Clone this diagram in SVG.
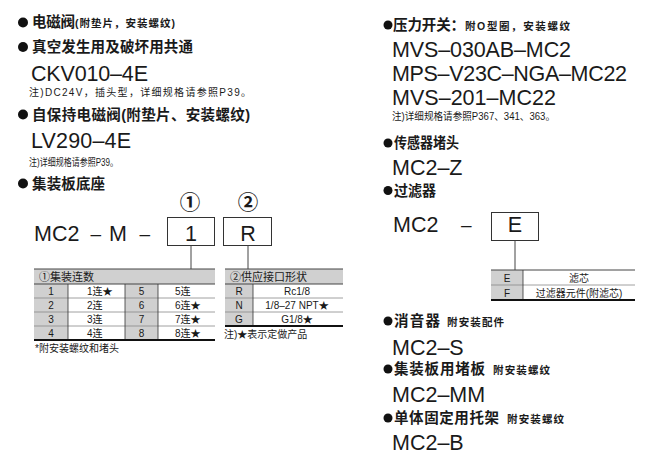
<svg xmlns="http://www.w3.org/2000/svg" width="649" height="459" viewBox="0 0 649 459">
<style>
text{font-family:"Liberation Sans","Noto Sans CJK SC",sans-serif;fill:#1a1a1a}
.h{font-size:14.5px;font-weight:700}
.s{font-size:10.5px;font-weight:700}
.big{font-size:21.5px}
.dash{font-size:19px}
.note{font-size:10px}
.t{font-size:10px}
.th{font-size:11px}
.c{text-anchor:middle}
.cj{font-family:"Noto Sans CJK SC",sans-serif}
.g{fill:#d0d0d0}
.w{fill:#fff}
.box{fill:#fff;stroke:#333;stroke-width:1}
.ln{stroke:#444;stroke-width:1;fill:none}
.rl{stroke:#888;stroke-width:0.8}
.vl{stroke:#333;stroke-width:0.8}
.bl{stroke:#111;stroke-width:2}
.dot{fill:#111}
</style>
<rect width="649" height="459" fill="#fff"/>

<g id="sec-solenoid">
<circle class="dot" cx="23" cy="22.5" r="5"/>
<text class="h" x="32" y="27" textLength="43">电磁阀</text>
<text class="s" x="75" y="27" textLength="100">(附垫片，安装螺纹)</text>
<circle class="dot" cx="23" cy="47" r="5"/>
<text class="h" x="32" y="52" textLength="161">真空发生用及破坏用共通</text>
<text class="big" x="31" y="81" textLength="117">CKV010–4E</text>
<text class="note" x="29" y="96" textLength="222">注)DC24V，插头型，详细规格请参照P39。</text>
</g>

<g id="sec-latching">
<circle class="dot" cx="23" cy="114.5" r="5"/>
<text class="h" x="32" y="120" textLength="218">自保持电磁阀(附垫片、安装螺纹)</text>
<text class="big" x="31" y="148" textLength="100">LV290–4E</text>
<text class="note" x="29" y="166" textLength="89" lengthAdjust="spacingAndGlyphs">注)详细规格请参照P39。</text>
</g>

<g id="sec-manifold">
<circle class="dot" cx="23" cy="183.5" r="5"/>
<text class="h" x="32" y="189" textLength="73">集装板底座</text>
<text class="big" x="34" y="241">MC2</text>
<text class="dash" x="90.5" y="240">–</text>
<text class="big" x="109" y="241">M</text>
<text class="dash" x="139.5" y="240">–</text>
</g>

<g id="code-1">
<text class="cj c" x="190" y="209.5" font-size="20.5" font-weight="700">①</text>
<rect class="box" x="167.5" y="217.5" width="47" height="28"/>
<text class="big c" x="191" y="241">1</text>
</g>

<g id="code-2">
<text class="cj c" x="248" y="209.5" font-size="20.5" font-weight="700">②</text>
<rect class="box" x="223.5" y="217.5" width="48" height="28"/>
<text class="big c" x="248" y="241">R</text>
</g>

<g id="table-stations">
<rect class="g" x="34" y="269" width="181" height="15"/>
<rect class="g" x="34" y="284" width="34" height="56"/>
<rect class="w" x="68" y="284" width="57" height="56"/>
<rect class="g" x="125" y="284" width="33" height="56"/>
<rect class="w" x="158" y="284" width="57" height="56"/>
<line class="ln" x1="34" y1="269" x2="215" y2="269"/>
<line class="ln" x1="34" y1="284" x2="215" y2="284"/>
<line class="rl" x1="34" y1="298" x2="215" y2="298"/>
<line class="rl" x1="34" y1="312" x2="215" y2="312"/>
<line class="rl" x1="34" y1="326" x2="215" y2="326"/>
<line class="vl" x1="68" y1="284" x2="68" y2="340"/>
<line class="vl" x1="125" y1="284" x2="125" y2="340"/>
<line class="vl" x1="158" y1="284" x2="158" y2="340"/>
<line class="bl" x1="34" y1="340" x2="215" y2="340"/>
<text class="th" x="39" y="280.5">①集装连数</text>
<text class="t c" x="51" y="294.5">1</text>
<text class="t c" x="51" y="308.5">2</text>
<text class="t c" x="51" y="322.5">3</text>
<text class="t c" x="51" y="336.5">4</text>
<text class="t" x="87" y="294.5">1连★</text>
<text class="t" x="87" y="308.5">2连</text>
<text class="t" x="87" y="322.5">3连</text>
<text class="t" x="87" y="336.5">4连</text>
<text class="t c" x="141.5" y="294.5">5</text>
<text class="t c" x="141.5" y="308.5">6</text>
<text class="t c" x="141.5" y="322.5">7</text>
<text class="t c" x="141.5" y="336.5">8</text>
<text class="t" x="175" y="294.5">5连</text>
<text class="t" x="175" y="308.5">6连★</text>
<text class="t" x="175" y="322.5">7连★</text>
<text class="t" x="175" y="336.5">8连★</text>
<text class="t" x="35" y="352">*附安装螺纹和堵头</text>
</g>

<g id="table-port">
<rect class="g" x="225" y="269" width="118" height="15"/>
<rect class="g" x="225" y="284" width="28" height="42"/>
<rect class="w" x="253" y="284" width="90" height="42"/>
<line class="ln" x1="225" y1="269" x2="343" y2="269"/>
<line class="ln" x1="225" y1="284" x2="343" y2="284"/>
<line class="rl" x1="225" y1="298" x2="343" y2="298"/>
<line class="rl" x1="225" y1="312" x2="343" y2="312"/>
<line class="vl" x1="253" y1="284" x2="253" y2="326"/>
<line class="bl" x1="225" y1="326" x2="343" y2="326"/>
<text class="th" x="230" y="280.5">②供应接口形状</text>
<text class="t c" x="239" y="294.5">R</text>
<text class="t c" x="239" y="308.5">N</text>
<text class="t c" x="239" y="322.5">G</text>
<text class="t c" x="297" y="294.5">Rc1/8</text>
<text class="t c" x="297" y="308.5">1/8–27 NPT★</text>
<text class="t c" x="297" y="322.5">G1/8★</text>
<text class="t" x="224" y="338">注)★表示定做产品</text>
</g>

<g id="sec-pressure-switch">
<circle class="dot" cx="388" cy="25" r="4.5"/>
<text class="h" x="393" y="30" textLength="72">压力开关：</text>
<text class="s" x="465" y="30" textLength="105">附O型圈，安装螺纹</text>
<text class="big" x="392" y="57" textLength="179">MVS–030AB–MC2</text>
<text class="big" x="392" y="81" textLength="235">MPS–V23C–NGA–MC22</text>
<text class="big" x="392" y="105" textLength="164">MVS–201–MC22</text>
<text class="note" x="392" y="120" textLength="163" lengthAdjust="spacingAndGlyphs">注)详细规格请参照P367、341、363。</text>
</g>

<g id="sec-sensor-plug">
<circle class="dot" cx="388" cy="143" r="4.5"/>
<text class="h" x="394" y="148" textLength="65" lengthAdjust="spacingAndGlyphs">传感器堵头</text>
<text class="big" x="392" y="175">MC2–Z</text>
</g>

<g id="sec-filter">
<circle class="dot" cx="388" cy="190.5" r="4.5"/>
<text class="h" x="394" y="196" textLength="42" lengthAdjust="spacingAndGlyphs">过滤器</text>
<text class="big" x="393" y="232">MC2</text>
<text class="dash" x="461" y="231">–</text>
</g>

<g id="code-filter">
<rect class="box" x="491.5" y="212.5" width="47" height="28"/>
<text class="big c" x="515" y="232">E</text>
</g>

<g id="table-filter">
<rect class="g" x="491" y="270" width="32" height="30"/>
<rect class="w" x="523" y="270" width="112" height="30"/>
<line class="ln" x1="491" y1="270" x2="635" y2="270"/>
<line class="rl" x1="491" y1="285" x2="635" y2="285"/>
<line class="vl" x1="523" y1="270" x2="523" y2="300"/>
<line class="bl" x1="491" y1="300" x2="635" y2="300"/>
<text class="t c" x="507" y="281.5">E</text>
<text class="t c" x="507" y="296.5">F</text>
<text class="t c" x="579" y="281.5">滤芯</text>
<text class="t c" x="579" y="296.5">过滤器元件(附滤芯)</text>
</g>

<g id="sec-silencer">
<circle class="dot" cx="388" cy="321" r="4.5"/>
<text class="h" x="394" y="326" textLength="46">消音器</text>
<text class="s" x="447" y="326" textLength="57">附安装配件</text>
<text class="big" x="392" y="355">MC2–S</text>
</g>

<g id="sec-blank-plate">
<circle class="dot" cx="388" cy="369" r="4.5"/>
<text class="h" x="394" y="374" textLength="91">集装板用堵板</text>
<text class="s" x="493" y="374" textLength="57">附安装螺纹</text>
<text class="big" x="392" y="402">MC2–MM</text>
</g>

<g id="sec-bracket">
<circle class="dot" cx="388" cy="418" r="4.5"/>
<text class="h" x="394" y="423" textLength="105">单体固定用托架</text>
<text class="s" x="507" y="423" textLength="57">附安装螺纹</text>
<text class="big" x="392" y="450">MC2–B</text>
</g>

<g id="connectors">
<line class="ln" x1="191" y1="245.5" x2="191" y2="269"/>
<line class="ln" x1="248" y1="245.5" x2="248" y2="269"/>
<line class="ln" x1="515" y1="240.5" x2="515" y2="270"/>
</g>
</svg>
